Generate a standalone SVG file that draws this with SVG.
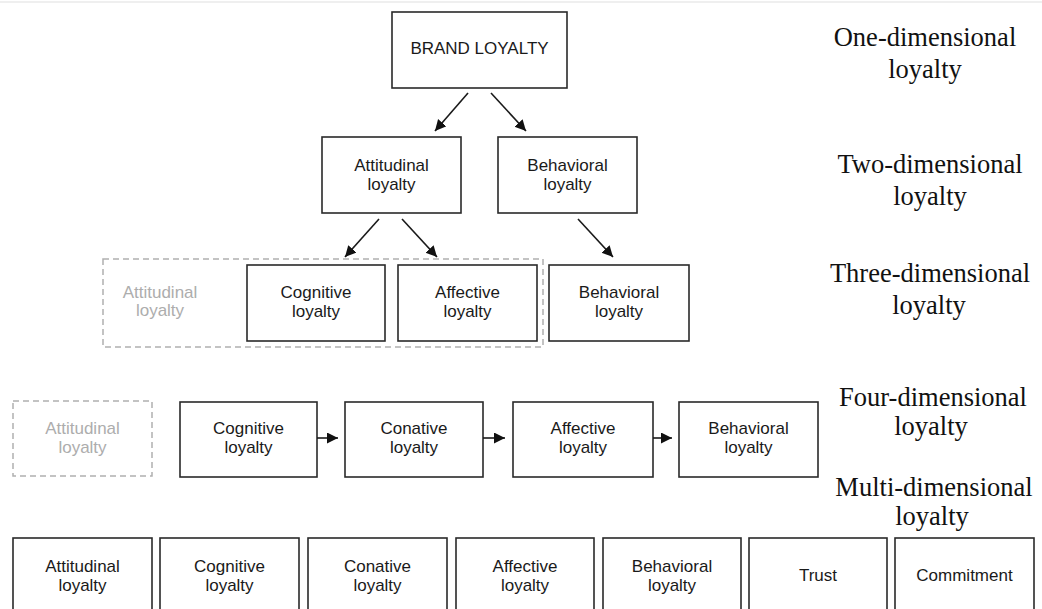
<svg xmlns="http://www.w3.org/2000/svg" width="1042" height="609" viewBox="0 0 1042 609">
<style>
.box{fill:#fff;stroke:#2a2a2a;stroke-width:1.6}
.ghost{fill:none;stroke:#b0b0b0;stroke-width:1.5;stroke-dasharray:6 4}
.t{font-family:"Liberation Sans",Arial,sans-serif;font-size:17px;fill:#1a1a1a;text-anchor:middle}
.g{font-family:"Liberation Sans",Arial,sans-serif;font-size:17px;fill:#adadad;text-anchor:middle}
.lab{font-family:"Liberation Serif","Times New Roman",serif;font-size:26.5px;fill:#111;text-anchor:middle}
.c{stroke:#1a1a1a;stroke-width:1.6;fill:none;marker-end:url(#ah)}
</style>
<defs>
<marker id="ah" markerUnits="userSpaceOnUse" markerWidth="12" markerHeight="12" refX="11" refY="5.5" orient="auto">
<path d="M0,0 L11,5.5 L0,11 z" fill="#111"/>
</marker>
</defs>
<rect width="1042" height="609" fill="#fff"/>
<line x1="0" y1="2" x2="1042" y2="2" stroke="#efefef" stroke-width="2"/>

<g id="labels">
<text class="lab" x="925" y="46">One-dimensional</text>
<text class="lab" x="925" y="78">loyalty</text>
<text class="lab" x="930" y="173">Two-dimensional</text>
<text class="lab" x="930" y="205">loyalty</text>
<text class="lab" x="930" y="282">Three-dimensional</text>
<text class="lab" x="929" y="314">loyalty</text>
<text class="lab" x="933" y="406">Four-dimensional</text>
<text class="lab" x="931" y="435">loyalty</text>
<text class="lab" x="934" y="496">Multi-dimensional</text>
<text class="lab" x="932" y="525">loyalty</text>
</g>

<g id="brand"><rect class="box" x="392" y="12" width="175" height="76"/><text class="t" x="479.5" y="54">BRAND LOYALTY</text></g>

<g id="att2"><rect class="box" x="322" y="137" width="139" height="76"/><text class="t" x="391.5" y="171">Attitudinal</text><text class="t" x="391.5" y="190">loyalty</text></g>
<g id="beh2"><rect class="box" x="498" y="137" width="139" height="76"/><text class="t" x="567.5" y="171">Behavioral</text><text class="t" x="567.5" y="190">loyalty</text></g>

<g id="att3"><rect class="ghost" x="103" y="259" width="440" height="88"/><text class="g" x="160" y="298">Attitudinal</text><text class="g" x="160" y="316">loyalty</text></g>
<g id="cog3"><rect class="box" x="247" y="265" width="138" height="76"/><text class="t" x="316" y="298">Cognitive</text><text class="t" x="316" y="317">loyalty</text></g>
<g id="aff3"><rect class="box" x="398" y="265" width="139" height="76"/><text class="t" x="467.5" y="298">Affective</text><text class="t" x="467.5" y="317">loyalty</text></g>
<g id="beh3"><rect class="box" x="549" y="265" width="140" height="76"/><text class="t" x="619" y="298">Behavioral</text><text class="t" x="619" y="317">loyalty</text></g>

<g id="att4"><rect class="ghost" x="13" y="401" width="139" height="75"/><text class="g" x="82.5" y="434">Attitudinal</text><text class="g" x="82.5" y="453">loyalty</text></g>
<g id="cog4"><rect class="box" x="180" y="402" width="137" height="75"/><text class="t" x="248.5" y="434">Cognitive</text><text class="t" x="248.5" y="453">loyalty</text></g>
<g id="con4"><rect class="box" x="345" y="402" width="138" height="75"/><text class="t" x="414" y="434">Conative</text><text class="t" x="414" y="453">loyalty</text></g>
<g id="aff4"><rect class="box" x="513" y="402" width="140" height="75"/><text class="t" x="583" y="434">Affective</text><text class="t" x="583" y="453">loyalty</text></g>
<g id="beh4"><rect class="box" x="679" y="402" width="139" height="75"/><text class="t" x="748.5" y="434">Behavioral</text><text class="t" x="748.5" y="453">loyalty</text></g>

<g id="attM"><rect class="box" x="13" y="538" width="139" height="80"/><text class="t" x="82.5" y="572">Attitudinal</text><text class="t" x="82.5" y="591">loyalty</text></g>
<g id="cogM"><rect class="box" x="160" y="538" width="139" height="80"/><text class="t" x="229.5" y="572">Cognitive</text><text class="t" x="229.5" y="591">loyalty</text></g>
<g id="conM"><rect class="box" x="308" y="538" width="139" height="80"/><text class="t" x="377.5" y="572">Conative</text><text class="t" x="377.5" y="591">loyalty</text></g>
<g id="affM"><rect class="box" x="456" y="538" width="138" height="80"/><text class="t" x="525" y="572">Affective</text><text class="t" x="525" y="591">loyalty</text></g>
<g id="behM"><rect class="box" x="603" y="538" width="138" height="80"/><text class="t" x="672" y="572">Behavioral</text><text class="t" x="672" y="591">loyalty</text></g>
<g id="trust"><rect class="box" x="749" y="538" width="138" height="80"/><text class="t" x="818" y="581">Trust</text></g>
<g id="commit"><rect class="box" x="895" y="538" width="139" height="80"/><text class="t" x="964.5" y="581">Commitment</text></g>

<g id="connectors">
<line class="c" x1="468" y1="93" x2="435" y2="131"/>
<line class="c" x1="491" y1="93" x2="526" y2="131"/>
<line class="c" x1="379" y1="219" x2="345" y2="257"/>
<line class="c" x1="402" y1="219" x2="437" y2="257"/>
<line class="c" x1="578" y1="219" x2="613" y2="257"/>
<line class="c" x1="317" y1="438" x2="338" y2="438"/>
<line class="c" x1="483" y1="438" x2="505" y2="438"/>
<line class="c" x1="653" y1="438" x2="672" y2="438"/>
</g>
</svg>
